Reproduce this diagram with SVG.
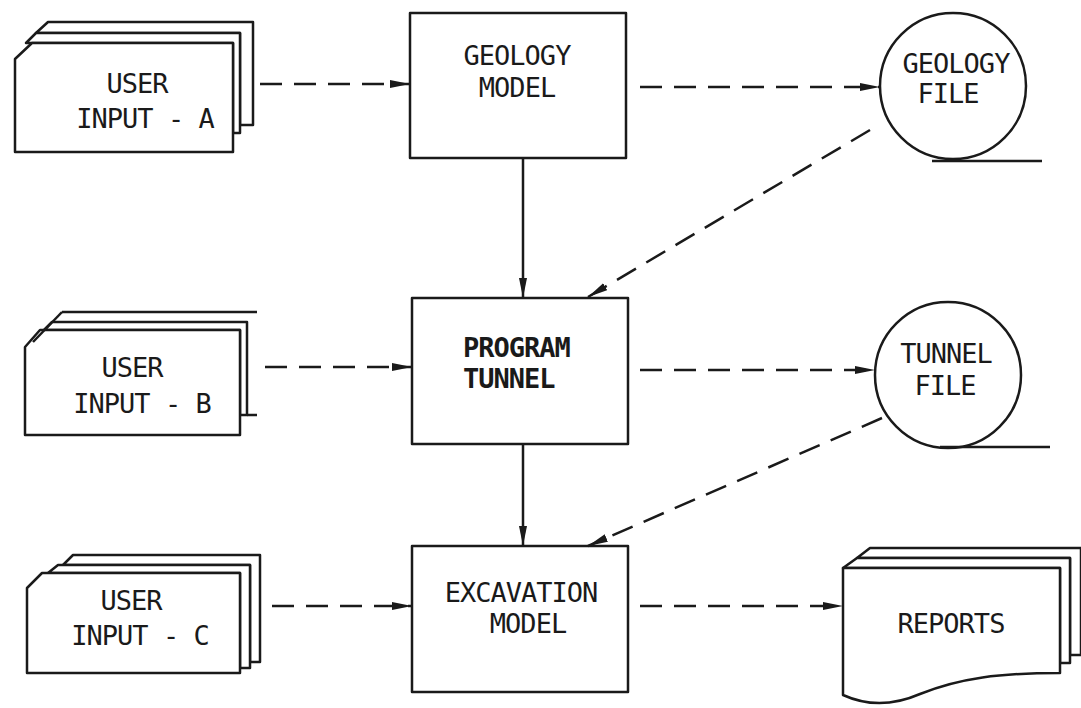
<svg xmlns="http://www.w3.org/2000/svg" width="1081" height="708" viewBox="0 0 1081 708">
<style>
.shape{fill:#fff;stroke:#1a1a1a;stroke-width:2.5;stroke-linejoin:round}
.line{fill:none;stroke:#1a1a1a;stroke-width:2.5}
.solid{fill:none;stroke:#1a1a1a;stroke-width:2.5}
.dash{fill:none;stroke:#1a1a1a;stroke-width:2.5;stroke-dasharray:22 12}
text{font-family:"DejaVu Sans Mono","Liberation Mono",monospace;font-size:27px;letter-spacing:-1px;fill:#1a1a1a;text-anchor:middle}
.b{font-weight:bold}
</style>
<defs>
<marker id="ah" viewBox="0 0 20 10" refX="20" refY="5" markerWidth="20" markerHeight="10" markerUnits="userSpaceOnUse" orient="auto">
<path d="M0,1 L20,5 L0,9 Z" fill="#1a1a1a"/>
</marker>
</defs>
<rect width="1081" height="708" fill="#fff"/>

<g id="user-input-a">
<path class="shape" d="M48,22 L253,22 L253,125 L240,125 L240,33 L36,33 Z"/>
<path class="shape" d="M36,33 L240,33 L240,133 L233,133 L233,43 L26,43 Z"/>
<path class="shape" d="M32,43 L233,43 L233,152 L15,152 L15,59 Z"/>
<text x="137" y="93">USER</text>
<text x="145" y="128">INPUT - A</text>
</g>

<g id="user-input-b">
<path class="line" d="M62,312 L257,312 M247,415 L257,415"/>
<path class="shape" d="M52,322 L247,322 L247,415 L240,415 L240,330 L44,330 Z"/>
<path class="shape" d="M40,330 L240,330 L240,435 L25,435 L25,347 Z"/>
<path class="line" d="M33,342 L62,312"/>
<text x="132" y="377">USER</text>
<text x="142" y="413">INPUT - B</text>
</g>

<g id="user-input-c">
<path class="shape" d="M73,555 L260,555 L260,662 L250,662 L250,565 L63,565 Z"/>
<path class="shape" d="M58,565 L250,565 L250,668 L240,668 L240,573 L48,573 Z"/>
<path class="shape" d="M42,573 L240,573 L240,673 L27,673 L27,588 Z"/>
<text x="131" y="610">USER</text>
<text x="140" y="645">INPUT - C</text>
</g>

<g id="geology-model">
<rect class="shape" x="410" y="13" width="216" height="145"/>
<text x="517" y="65">GEOLOGY</text>
<text x="517" y="97">MODEL</text>
</g>

<g id="program-tunnel">
<rect class="shape" x="412" y="298" width="216" height="146"/>
<text class="b" x="463" y="357" style="text-anchor:start">PROGRAM</text>
<text class="b" x="463" y="388" style="text-anchor:start">TUNNEL</text>
</g>

<g id="excavation-model">
<rect class="shape" x="412" y="546" width="216" height="146"/>
<text x="521" y="602">EXCAVATION</text>
<text x="528" y="633">MODEL</text>
</g>

<g id="geology-file">
<circle class="shape" cx="953" cy="86" r="73"/>
<path class="line" d="M932,161 L1042,161"/>
<text x="956" y="73">GEOLOGY</text>
<text x="948" y="103">FILE</text>
</g>

<g id="tunnel-file">
<circle class="shape" cx="948" cy="375" r="73"/>
<path class="line" d="M940,447 L1050,447"/>
<text x="946" y="363">TUNNEL</text>
<text x="945" y="395">FILE</text>
</g>

<g id="reports">
<path class="shape" d="M870,548 L1081,548 L1081,655 L1070,655 L1070,558 L857,558 Z"/>
<path class="shape" d="M857,558 L1070,558 L1070,663 L1060,663 L1060,568 L843,568 Z"/>
<path class="shape" d="M843,568 L1060,568 L1060,673 C1000,673 960,678 920,694 C890,707 865,705 843,695 Z"/>
<text x="951" y="633">REPORTS</text>
</g>

<g id="connectors">
<path class="dash" d="M260,84 L410,84" marker-end="url(#ah)"/>
<path class="dash" d="M640,87 L880,87" marker-end="url(#ah)"/>
<path class="solid" d="M523,158 L523,298" marker-end="url(#ah)"/>
<path class="dash" d="M870,130 L588,297" marker-end="url(#ah)"/>
<path class="dash" d="M265,367 L412,367" marker-end="url(#ah)"/>
<path class="dash" d="M640,370 L875,370" marker-end="url(#ah)"/>
<path class="solid" d="M523,444 L523,546" marker-end="url(#ah)"/>
<path class="dash" d="M882,418 L588,546" marker-end="url(#ah)"/>
<path class="dash" d="M272,606 L412,606" marker-end="url(#ah)"/>
<path class="dash" d="M640,606 L843,606" marker-end="url(#ah)"/>
</g>
</svg>
